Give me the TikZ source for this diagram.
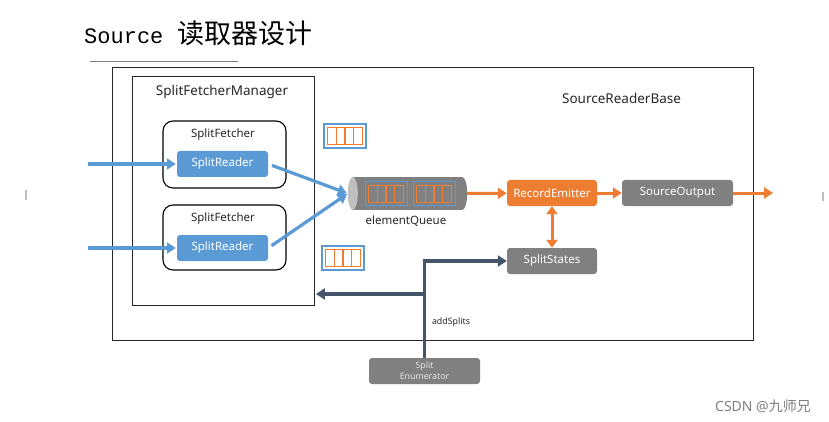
\documentclass[tikz,border=0pt]{standalone}
\usepackage{fontspec}
\setmainfont{Noto Sans}
\setsansfont{Noto Sans}
\newfontfamily\cjk{Noto Sans CJK SC}
\newfontfamily\titlemono{Liberation Mono}
\usetikzlibrary{arrows.meta,calc}
\definecolor{bblue}{RGB}{91,155,213}
\definecolor{borange}{RGB}{237,125,49}
\definecolor{bgray}{RGB}{128,128,128}
\definecolor{navy}{RGB}{68,84,106}
\definecolor{lgray}{RGB}{191,191,191}
\definecolor{txt}{RGB}{40,40,40}
\newcommand\qicon[4]{% x y fill border-width
  \fill[#3] (#1,#2) rectangle ++(42,24);
  \draw[borange, line width=1pt] (#1+3.5,#2+3.5) rectangle ++(35,17);
  \foreach \k in {1,2,3} \draw[borange, line width=1.2pt] (#1+3.5+8.75*\k,#2+3.5) -- ++(0,17);
  \draw[bblue, line width=#4] (#1,#2) rectangle ++(42,24);
}
\begin{document}
\begin{tikzpicture}[x=1pt,y=-1pt,
  box/.style={draw=black!85, line width=0.9pt, rectangle, inner sep=0pt},
  fetcher/.style={draw=black, line width=1.1pt, rounded corners=10pt, inner sep=0pt},
  lbl/.style={font=\fontsize{11.5}{13}\selectfont, inner sep=0pt, text=txt},
  biglbl/.style={font=\fontsize{13.5}{15}\selectfont, inner sep=0pt, text=txt},
  reader/.style={fill=bblue, rounded corners=3pt, text=white, minimum width=91pt, minimum height=26pt, inner sep=0pt, font=\fontsize{11.5}{13}\selectfont},
  orbox/.style={fill=borange, rounded corners=3pt, text=white, minimum height=26pt, inner sep=0pt, font=\fontsize{11.5}{13}\selectfont},
  grbox/.style={fill=bgray, rounded corners=3pt, text=white, minimum height=26pt, inner sep=0pt, font=\fontsize{11.5}{13}\selectfont},
  blarrow/.style={draw=bblue, line width=3.2pt, -{Triangle[length=9pt,width=11pt]}},
  orarrow/.style={draw=borange, line width=3pt, -{Triangle[length=9pt,width=11pt]}},
  navyarrow/.style={draw=navy, line width=3.4pt, -{Triangle[length=9pt,width=11pt]}}
]
\useasboundingbox (0,0) rectangle (829,422);
\fill[white] (0,0) rectangle (829,422);

% title
\node[anchor=base west, inner sep=0pt, text=black] (title) at (84,44)
  {\titlemono\fontsize{22}{24}\selectfont Source\hspace{14pt}{\cjk\fontsize{27}{29}\selectfont 读取器设计}};
\draw[gray, line width=0.8pt] (90,61) -- (238,61);

% side marks
\draw[lgray, line width=1.5pt] (26,190) -- (26,200);
\draw[lgray, line width=1.5pt] (823,192) -- (823,201);

% containers
\node[box, minimum width=641pt, minimum height=273pt] (srb) at (432.5,203.5) {};
\node[box, minimum width=182pt, minimum height=229pt] (sfm) at (223,190.5) {};
\node[biglbl] (sfmlbl) at (222,92) {SplitFetcherManager};
\node[biglbl] (srblbl) at (621.5,98) {SourceReaderBase};

% fetchers
\node[fetcher, minimum width=123pt, minimum height=67pt] (sf1) at (224.5,154.5) {};
\node[lbl] (sf1lbl) at (223,135) {SplitFetcher};
\node[reader] (sr1) at (222.5,164) {SplitReader};
\node[fetcher, minimum width=123pt, minimum height=65pt] (sf2) at (224.5,237.5) {};
\node[lbl] (sf2lbl) at (223,219) {SplitFetcher};
\node[reader] (sr2) at (222.5,248) {SplitReader};

% queue icons
\qicon{324}{124}{white}{2pt}
\qicon{322}{246}{white}{2pt}

% element queue cylinder
\node[minimum width=119pt, minimum height=33pt, inner sep=0pt] (queue) at (407.5,193.5) {};
\fill[bgray] ($(queue.north west)+(5,0)$) rectangle ($(queue.south east)+(-5,0)$);
\fill[bgray] ($(queue.east)+(-5,0)$) ellipse [x radius=5, y radius=16.5];
\fill[lgray] ($(queue.west)+(5,0)$) ellipse [x radius=5, y radius=16.5];
\qicon{365}{181.5}{bgray}{1pt}
\qicon{413}{181.5}{bgray}{1pt}
\node[lbl] (qlbl) at (406,221) {elementQueue};

% right side boxes
\node[orbox, minimum width=90pt] (re) at (552,193) {RecordEmitter};
\node[grbox, minimum width=111pt] (so) at (677.5,193) {SourceOutput};
\node[grbox, minimum width=90pt] (ss) at (552,261) {SplitStates};
\node[grbox, minimum width=111pt, text=white!90!black, font=\fontsize{8.8}{11}\selectfont, align=center] (se) at (424.5,371) {Split\\Enumerator};
\node[font=\fontsize{8.8}{10}\selectfont, inner sep=0pt, text=txt] (addlbl) at (451,322) {addSplits};

% watermark
\node[anchor=base west, inner sep=0pt, text=gray, font=\fontsize{14}{16}\selectfont] (wm) at (715,411) {CSDN @{\cjk 九师兄}};

% connectors
\coordinate (in1) at (88,164);
\coordinate (in2) at (88,248);
\draw[blarrow, shorten >=1pt] (in1) -- (sr1);
\draw[blarrow, shorten >=1pt] (in2) -- (sr2);
\draw[blarrow, shorten <=4pt, shorten >=1pt] (sr1.east) -- (queue.west);
\draw[blarrow, shorten <=4pt, shorten >=1pt] (sr2.east) -- (queue.west);

\coordinate (out) at (773,193);
\draw[orarrow] (queue.east) -- (re);
\draw[orarrow] (re) -- (so);
\draw[orarrow] (so) -- (out);
\draw[draw=borange, line width=3pt, {Triangle[length=8pt,width=11pt]}-{Triangle[length=8pt,width=11pt]}] (re) -- (ss);

\coordinate (jy) at (0,294);
\coordinate (jn) at (se.north |- jy);
\draw[navyarrow] (se.north) |- (ss.west);
\draw[navyarrow, shorten >=1.5pt] (jn) -- (sfm.east |- jn);
\end{tikzpicture}
\end{document}
